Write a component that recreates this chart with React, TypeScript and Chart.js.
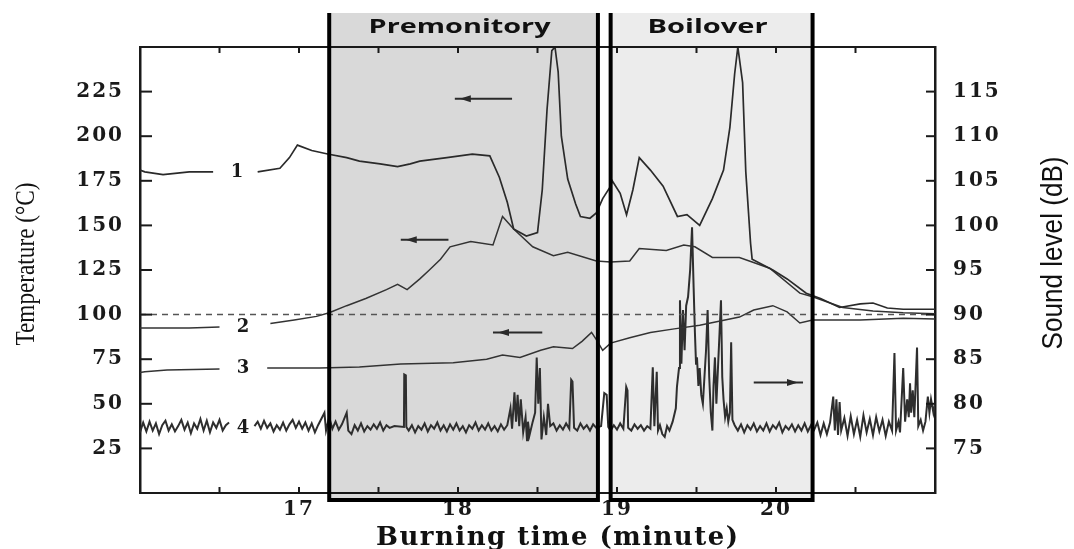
import React, { useEffect, useRef } from "react";
import { Chart, registerables } from "chart.js";

Chart.register(...registerables);

// ---- data (burning time in minutes, temperature in °C, sound level in dB) ----
const curve1: [number, number | null][] = [
  [16.0, 181], [16.03, 180], [16.145, 178.5], [16.31, 180], [16.46, 180], [16.6, null],
  [16.74, 180], [16.88, 182], [16.94, 188], [16.99, 195], [17.08, 192], [17.18, 190],
  [17.3, 188], [17.38, 186], [17.51, 184.5], [17.62, 183], [17.7, 184.5], [17.76, 186],
  [17.93, 188], [18.09, 190], [18.2, 189], [18.26, 177], [18.31, 163], [18.35, 148],
  [18.43, 144], [18.5, 146], [18.53, 170], [18.56, 215], [18.59, 248], [18.61, 250],
  [18.63, 236], [18.65, 200], [18.69, 176], [18.74, 162], [18.77, 155], [18.83, 154],
  [18.87, 157], [18.91, 165], [18.96, 172], [18.97, 175], [19.02, 168], [19.06, 156],
  [19.1, 170], [19.14, 188], [19.21, 181], [19.29, 172], [19.38, 155], [19.44, 156],
  [19.52, 150], [19.6, 165], [19.67, 181], [19.71, 205], [19.74, 235], [19.76, 250],
  [19.79, 230], [19.81, 180], [19.84, 140], [19.85, 131], [19.98, 125], [20.07, 120],
  [20.19, 112], [20.28, 109], [20.4, 104], [20.53, 106], [20.61, 106.5], [20.7, 103.7],
  [20.8, 103], [21.0, 103],
];

const curve2: [number, number | null][] = [
  [16.0, 92.5], [16.13, 92.5], [16.31, 92.5], [16.5, 93], [16.66, null], [16.82, 95],
  [16.97, 97], [17.11, 99], [17.19, 101], [17.3, 105], [17.42, 109], [17.55, 114],
  [17.62, 117], [17.68, 114], [17.76, 120], [17.82, 125], [17.89, 131], [17.95, 138],
  [18.08, 141], [18.22, 139], [18.28, 155], [18.35, 148], [18.47, 138], [18.6, 133],
  [18.69, 135], [18.87, 130], [18.96, 129.5], [19.08, 130], [19.14, 137], [19.31, 136],
  [19.42, 139], [19.49, 138], [19.6, 132], [19.77, 132], [19.85, 129.5], [19.96, 126],
  [20.15, 112], [20.23, 110], [20.42, 104], [20.61, 102], [20.8, 101], [21.0, 100.5],
];

const curve3: [number, number | null][] = [
  [16.0, 67.5], [16.03, 68], [16.17, 69], [16.5, 69.5], [16.66, null], [16.8, 70],
  [17.13, 70], [17.38, 70.6], [17.64, 72.3], [17.97, 73], [18.18, 75], [18.28, 77.3],
  [18.39, 76], [18.52, 80], [18.6, 82], [18.72, 81], [18.78, 85], [18.84, 90],
  [18.87, 86], [18.91, 80], [18.96, 84], [19.08, 87], [19.21, 90], [19.36, 92],
  [19.52, 94], [19.77, 98.6], [19.86, 102.6], [19.98, 105], [20.07, 101.5], [20.15, 95.3],
  [20.23, 97], [20.53, 97], [20.8, 98], [21.0, 97.5],
];

const sound4: [number, number | null][] = [
  [16.0, 76.8], [16.02, 77.9], [16.04, 76.9], [16.06, 78.0], [16.08, 77.0], [16.1, 77.8],
  [16.12, 76.6], [16.14, 77.6], [16.16, 78.1], [16.18, 77.0], [16.2, 77.7], [16.22, 76.9],
  [16.24, 77.5], [16.26, 78.2], [16.28, 77.1], [16.3, 77.9], [16.32, 76.7], [16.34, 77.8],
  [16.36, 77.2], [16.38, 78.3], [16.4, 77.0], [16.42, 78.1], [16.44, 76.8], [16.46, 77.9],
  [16.48, 77.3], [16.5, 78.2], [16.52, 77.0], [16.54, 77.6], [16.56, 77.9], [16.63, null],
  [16.72, 77.5], [16.74, 78.0], [16.76, 77.2], [16.78, 78.1], [16.8, 77.3], [16.82, 77.8],
  [16.84, 76.9], [16.86, 77.6], [16.88, 77.1], [16.9, 77.9], [16.92, 77.0], [16.94, 77.7],
  [16.96, 78.2], [16.98, 77.3], [17.0, 78.0], [17.02, 77.2], [17.04, 77.9], [17.06, 77.0],
  [17.08, 77.8], [17.1, 76.8], [17.12, 77.6], [17.14, 78.3], [17.16, 79.0], [17.17, 77.0],
  [17.19, 78.5], [17.21, 77.2], [17.23, 78.0], [17.25, 77.1], [17.27, 77.7], [17.3, 79.0],
  [17.31, 77.0], [17.33, 76.6], [17.35, 77.6], [17.37, 77.0], [17.39, 77.8], [17.41, 76.9],
  [17.43, 77.5], [17.45, 77.1], [17.47, 77.7], [17.49, 77.2], [17.51, 77.9], [17.53, 77.0],
  [17.55, 77.6], [17.57, 77.3], [17.6, 77.5], [17.66, 77.4], [17.662, 83.3], [17.672, 83.2],
  [17.675, 77.4], [17.69, 77.0], [17.71, 77.6], [17.73, 76.8], [17.75, 77.5], [17.77, 77.1],
  [17.79, 77.8], [17.81, 76.9], [17.83, 77.6], [17.85, 77.2], [17.87, 77.9], [17.89, 77.0],
  [17.91, 77.6], [17.93, 76.9], [17.95, 77.7], [17.97, 77.1], [17.99, 77.8], [18.01, 77.0],
  [18.03, 77.5], [18.05, 76.8], [18.07, 77.6], [18.09, 77.2], [18.11, 77.9], [18.13, 77.0],
  [18.15, 77.6], [18.17, 77.1], [18.19, 77.8], [18.21, 77.0], [18.23, 77.5], [18.25, 76.9],
  [18.27, 77.7], [18.29, 77.1], [18.31, 77.6], [18.33, 79.5], [18.34, 77.2], [18.355, 81.3],
  [18.365, 78.0], [18.375, 81.0], [18.385, 77.5], [18.395, 80.5], [18.41, 76.8], [18.425, 78.5],
  [18.434, 75.9], [18.44, 78.0], [18.45, 76.5], [18.47, 78.0], [18.485, 79.0], [18.495, 85.2],
  [18.505, 80.0], [18.515, 84.0], [18.525, 76.0], [18.54, 78.5], [18.555, 76.5], [18.566, 80.0],
  [18.58, 77.5], [18.6, 77.8], [18.62, 77.0], [18.64, 77.6], [18.66, 77.1], [18.68, 77.8],
  [18.7, 77.2], [18.712, 82.7], [18.72, 82.5], [18.73, 77.3], [18.75, 77.0], [18.77, 77.8],
  [18.79, 77.2], [18.81, 77.6], [18.83, 77.0], [18.85, 77.7], [18.87, 77.3], [18.9, 77.5],
  [18.92, 81.2], [18.935, 81.0], [18.945, 77.4], [18.96, 77.0], [18.98, 77.6], [19.0, 77.1],
  [19.02, 77.8], [19.04, 77.2], [19.058, 81.9], [19.066, 81.5], [19.07, 77.3], [19.09, 77.0],
  [19.11, 77.7], [19.13, 77.2], [19.15, 77.6], [19.17, 77.0], [19.19, 77.5], [19.21, 77.2],
  [19.225, 84.1], [19.235, 77.5], [19.25, 83.6], [19.258, 77.0], [19.27, 77.6], [19.285, 76.6],
  [19.3, 76.3], [19.315, 77.5], [19.33, 77.0], [19.35, 78.0], [19.37, 79.5], [19.377, 81.9],
  [19.39, 84.0], [19.396, 91.6], [19.405, 84.5], [19.415, 90.5], [19.425, 86.0], [19.435, 91.0],
  [19.447, 92.0], [19.46, 95.0], [19.472, 99.8], [19.482, 93.0], [19.49, 88.0], [19.497, 84.5],
  [19.503, 85.2], [19.512, 82.0], [19.52, 84.0], [19.53, 81.0], [19.54, 80.0], [19.55, 83.0],
  [19.56, 86.0], [19.57, 90.5], [19.58, 83.0], [19.59, 79.0], [19.6, 77.0], [19.607, 82.0],
  [19.616, 85.2], [19.625, 80.0], [19.635, 84.0], [19.645, 88.0], [19.654, 91.6], [19.662, 83.0],
  [19.67, 80.5], [19.68, 78.5], [19.69, 79.5], [19.7, 78.0], [19.71, 79.0], [19.718, 86.9],
  [19.726, 78.2], [19.74, 77.6], [19.76, 77.0], [19.78, 77.7], [19.8, 76.8], [19.82, 77.6],
  [19.84, 77.1], [19.86, 77.8], [19.88, 76.9], [19.9, 77.5], [19.92, 77.0], [19.94, 77.8],
  [19.96, 76.9], [19.98, 77.6], [20.0, 77.2], [20.02, 77.9], [20.04, 76.8], [20.06, 77.5],
  [20.08, 77.1], [20.1, 77.7], [20.12, 76.9], [20.14, 77.6], [20.16, 77.0], [20.18, 77.8],
  [20.2, 76.9], [20.22, 77.6], [20.24, 77.1], [20.26, 77.9], [20.28, 76.5], [20.3, 77.8],
  [20.32, 76.6], [20.34, 77.9], [20.36, 80.8], [20.37, 77.0], [20.38, 80.5], [20.39, 76.5],
  [20.4, 80.2], [20.41, 77.0], [20.43, 78.4], [20.45, 76.4], [20.47, 78.6], [20.49, 76.6],
  [20.51, 78.2], [20.53, 76.3], [20.55, 78.7], [20.57, 76.8], [20.59, 78.3], [20.61, 76.5],
  [20.63, 78.5], [20.65, 76.9], [20.67, 78.2], [20.69, 76.4], [20.71, 78.0], [20.73, 77.0],
  [20.745, 85.7], [20.755, 77.0], [20.77, 78.0], [20.78, 76.8], [20.8, 84.0], [20.812, 78.0],
  [20.825, 80.5], [20.835, 78.5], [20.843, 82.3], [20.85, 79.0], [20.86, 81.5], [20.87, 78.5],
  [20.887, 86.3], [20.895, 77.5], [20.91, 78.2], [20.925, 77.0], [20.94, 78.0], [20.955, 80.8],
  [20.965, 79.0], [20.975, 80.5], [20.99, 79.0], [21.0, 80.0],
];

const boilingLine: [number, number][] = [[16, 100], [21, 100]];

const xTickLabels = [17, 18, 19, 20];
const tempTickLabels = [25, 50, 75, 100, 125, 150, 175, 200, 225];
const soundTickLabels = [75, 80, 85, 90, 95, 100, 105, 110, 115];

const phaseNames = ["Premonitory", "Boilover"];
const phaseStart = [17.19, 18.96];
const phaseEnd = [18.88, 20.23];

const curveNames = ["1", "2", "3", "4"];
const curveNameTime = [16.61, 16.648, 16.648, 16.648];
const curveNameTemp = [180, 93, 70, 36.4];

const arrowFrom = [17.98, 17.64, 18.22, 19.86];
const arrowTo = [18.34, 17.94, 18.53, 20.17];
const arrowTemp = [221, 142, 90, 62];
const arrowPointsLeft = [true, true, true, false];

const xTitle = "Burning time (minute)";
const yTitle = "Temperature (°C)";
const y2Title = "Sound level (dB)";

// ---- helpers ----
function drawFitted(
  ctx: CanvasRenderingContext2D,
  text: string,
  font: string,
  cx: number,
  cy: number,
  width: number,
  rot: number,
  baseline: CanvasTextBaseline
) {
  ctx.save();
  (ctx as any).letterSpacing = "0px";
  ctx.font = font;
  const w = ctx.measureText(text).width;
  ctx.translate(cx, cy);
  ctx.rotate(rot);
  ctx.scale(width / w, 1);
  ctx.textAlign = "center";
  ctx.textBaseline = baseline;
  ctx.fillStyle = "#111";
  ctx.fillText(text, 0, 0);
  ctx.restore();
}

function drawSpaced(
  ctx: CanvasRenderingContext2D,
  text: string,
  font: string,
  cx: number,
  cy: number,
  width: number
) {
  ctx.save();
  (ctx as any).letterSpacing = "0px";
  ctx.font = font;
  const w = ctx.measureText(text).width;
  const sp = Math.max(0, (width - w) / (text.length - 1));
  (ctx as any).letterSpacing = sp + "px";
  ctx.textAlign = "left";
  ctx.textBaseline = "alphabetic";
  ctx.fillStyle = "#111";
  ctx.fillText(text, cx - width / 2, cy);
  ctx.restore();
}

const decoPlugin = {
  id: "deco",
  beforeDraw(chart: any) {
    (chart.ctx as any).letterSpacing = "2px";
  },
  beforeDatasetsDraw(chart: any) {
    const { ctx, chartArea: a, scales } = chart;
    (ctx as any).letterSpacing = "0px";
    const fills = ["rgba(0,0,0,0.15)", "rgba(0,0,0,0.075)"];
    phaseStart.forEach((s, i) => {
      const x0 = scales.x.getPixelForValue(s);
      const x1 = scales.x.getPixelForValue(phaseEnd[i]);
      ctx.save();
      ctx.fillStyle = fills[i];
      ctx.fillRect(x0, a.top - 34, x1 - x0, a.bottom + 7 - (a.top - 34));
      ctx.restore();
    });
  },
  afterDatasetsDraw(chart: any) {
    const { ctx, chartArea: a, scales } = chart;
    const x = scales.x;
    const y = scales.y;
    const y2 = scales.y2;
    ctx.save();
    (ctx as any).letterSpacing = "0px";
    // top frame line
    ctx.strokeStyle = "#1a1a1a";
    ctx.lineWidth = 2;
    ctx.beginPath();
    ctx.moveTo(a.left, a.top);
    ctx.lineTo(a.right, a.top);
    ctx.stroke();
    // inward tick marks
    ctx.lineWidth = 2;
    for (let v = x.min + 0.5; v < x.max; v += 0.5) {
      const px = x.getPixelForValue(v);
      ctx.beginPath();
      ctx.moveTo(px, a.bottom);
      ctx.lineTo(px, a.bottom - 6);
      ctx.moveTo(px, a.top);
      ctx.lineTo(px, a.top + 6);
      ctx.stroke();
    }
    tempTickLabels.forEach((v) => {
      const py = y.getPixelForValue(v);
      ctx.beginPath();
      ctx.moveTo(a.left, py);
      ctx.lineTo(a.left + 12, py);
      ctx.stroke();
    });
    soundTickLabels.forEach((v) => {
      const py = y2.getPixelForValue(v);
      ctx.beginPath();
      ctx.moveTo(a.right, py);
      ctx.lineTo(a.right - 9, py);
      ctx.stroke();
    });
    // arrows
    ctx.lineWidth = 2;
    ctx.strokeStyle = "#2a2a2a";
    ctx.fillStyle = "#2a2a2a";
    arrowFrom.forEach((f, i) => {
      const x0 = x.getPixelForValue(f);
      const x1 = x.getPixelForValue(arrowTo[i]);
      const py = y.getPixelForValue(arrowTemp[i]);
      ctx.beginPath();
      ctx.moveTo(x0, py);
      ctx.lineTo(x1, py);
      ctx.stroke();
      const tip = arrowPointsLeft[i] ? x0 + 5 : x1 - 5;
      const dir = arrowPointsLeft[i] ? 1 : -1;
      ctx.beginPath();
      ctx.moveTo(tip, py);
      ctx.lineTo(tip + dir * 11, py - 3.5);
      ctx.lineTo(tip + dir * 11, py + 3.5);
      ctx.closePath();
      ctx.fill();
    });
    // curve numbers
    ctx.fillStyle = "#1a1a1a";
    ctx.font = 'bold 18px "DejaVu Serif"';
    ctx.textAlign = "center";
    ctx.textBaseline = "middle";
    curveNames.forEach((n, i) => {
      ctx.fillText(n, x.getPixelForValue(curveNameTime[i]), y.getPixelForValue(curveNameTemp[i]));
    });
    // phase box borders
    ctx.strokeStyle = "#000";
    ctx.lineWidth = 4;
    phaseStart.forEach((s, i) => {
      const x0 = x.getPixelForValue(s);
      const x1 = x.getPixelForValue(phaseEnd[i]);
      ctx.beginPath();
      ctx.moveTo(x0, a.top - 34);
      ctx.lineTo(x0, a.bottom + 7);
      ctx.lineTo(x1, a.bottom + 7);
      ctx.lineTo(x1, a.top - 34);
      ctx.stroke();
    });
    ctx.restore();
    // phase names
    const widths = [182, 120];
    phaseNames.forEach((n, i) => {
      const cx = (x.getPixelForValue(phaseStart[i]) + x.getPixelForValue(phaseEnd[i])) / 2 - 4;
      drawFitted(ctx, n, 'bold 20px "Open Sans"', cx, a.top - 14, widths[i], 0, "alphabetic");
    });
    // axis titles
    drawSpaced(ctx, xTitle, 'bold 26px "DejaVu Serif"', 557, 545, 362);
    drawFitted(ctx, yTitle, '28px "Liberation Serif"', 34, 264, 163, -Math.PI / 2, "alphabetic");
    drawFitted(ctx, y2Title, '30px "Liberation Sans Narrow", "Liberation Sans"', 1062, 253, 193, -Math.PI / 2, "alphabetic");
  },
};

const tickFont = { family: '"DejaVu Serif"', size: 20, weight: "bold" as const };

export default function App() {
  const canvasRef = useRef<HTMLCanvasElement | null>(null);
  useEffect(() => {
    const canvas = canvasRef.current;
    if (!canvas) return;
    const line = (data: any, width: number, color: string, axis = "y") => ({
      data,
      borderColor: color,
      borderWidth: width,
      pointRadius: 0,
      tension: 0,
      spanGaps: false,
      yAxisID: axis,
      fill: false,
    });
    const chart = new Chart(canvas, {
      type: "line",
      data: {
        datasets: [
          { ...line(boilingLine, 1.5, "#555"), borderDash: [6, 5] },
          line(curve1, 1.7, "#2a2a2a"),
          line(curve2, 1.5, "#333"),
          line(curve3, 1.5, "#333"),
          line(sound4, 2, "#2e2e2e", "y2"),
        ],
      },
      options: {
        animation: false,
        responsive: false,
        layout: { padding: { top: 47, left: 0, right: 0, bottom: 0 } },
        plugins: { legend: { display: false }, tooltip: { enabled: false } },
        scales: {
          x: {
            type: "linear",
            min: 16,
            max: 21,
            grid: { display: false, drawTicks: false },
            border: { display: true, color: "#1a1a1a", width: 2 },
            ticks: {
              stepSize: 1,
              autoSkip: false,
              maxRotation: 0,
              padding: 5,
              color: "#1a1a1a",
              font: tickFont,
              callback: (v: any) => (xTickLabels.includes(Number(v)) ? String(v) : ""),
            },
            afterFit: (s: any) => {
              s.height = 56;
            },
          },
          y: {
            type: "linear",
            position: "left",
            min: 0,
            max: 250,
            grid: { display: false, drawTicks: false },
            border: { display: true, color: "#1a1a1a", width: 2.5 },
            ticks: {
              stepSize: 25,
              autoSkip: false,
              padding: 16,
              color: "#1a1a1a",
              font: tickFont,
              callback: (v: any) => (tempTickLabels.includes(Number(v)) ? String(v) : ""),
            },
            afterFit: (s: any) => {
              s.width = 140;
            },
          },
          y2: {
            type: "linear",
            position: "right",
            min: 70,
            max: 120,
            grid: { display: false, drawTicks: false },
            border: { display: true, color: "#1a1a1a", width: 2.5 },
            ticks: {
              stepSize: 5,
              autoSkip: false,
              padding: 18,
              color: "#1a1a1a",
              font: tickFont,
              callback: (v: any) => (soundTickLabels.includes(Number(v)) ? String(v) : ""),
            },
            afterFit: (s: any) => {
              s.width = 139;
            },
          },
        },
      },
      plugins: [decoPlugin],
    } as any);
    return () => chart.destroy();
  }, []);
  return (
    <div style={{ position: "fixed", left: 0, top: 0, width: 1074, height: 549, background: "#fff" }}>
      <canvas ref={canvasRef} width={1074} height={549} style={{ display: "block" }} />
    </div>
  );
}
